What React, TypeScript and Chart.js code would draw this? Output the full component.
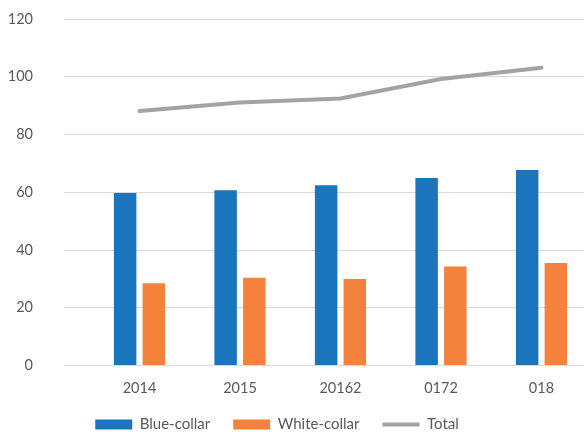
import React, { useEffect, useRef } from "react";
import { Chart, registerables } from "chart.js";

Chart.register(...registerables);

const categories = ["2014", "2015", "20162", "0172", "018"];
const blueCollar = [59.7, 60.7, 62.4, 64.9, 67.7];
const whiteCollar = [28.5, 30.4, 30.0, 34.3, 35.5];
const total = [88.1, 91.1, 92.5, 99.2, 103.1];
const yTicks = [0, 20, 40, 60, 80, 100, 120];

const legendShift = {
  id: "legendShift",
  afterLayout(chart: any) {
    const l = chart.legend;
    if (l) {
      l.left -= 15;
      l.right -= 15;
    }
  },
};

export default function App() {
  const ref = useRef<HTMLCanvasElement>(null);
  useEffect(() => {
    if (!ref.current) return;
    Chart.defaults.font.family = "Lato";
    Chart.defaults.font.size = 14;
    Chart.defaults.color = "#595959";
    const toPts = (arr: number[]) => arr.map((v, i) => ({ x: i, y: v }));
    const chart = new Chart(ref.current, {
      type: "bar",
      data: {
        datasets: [
          {
            label: "Blue-collar",
            data: toPts(blueCollar),
            backgroundColor: "#1b75bc",
            borderWidth: 0,
            categoryPercentage: 0.571,
            barPercentage: 0.784,
          } as any,
          {
            label: "White-collar",
            data: toPts(whiteCollar),
            backgroundColor: "#f4823c",
            borderWidth: 0,
            categoryPercentage: 0.571,
            barPercentage: 0.784,
          } as any,
          {
            type: "line",
            label: "Total",
            data: toPts(total),
            borderColor: "#a3a3a3",
            backgroundColor: "#a3a3a3",
            borderWidth: 4,
            pointRadius: 0,
            tension: 0,
            borderCapStyle: "round",
          } as any,
        ],
      },
      options: {
        animation: false,
        responsive: false,
        maintainAspectRatio: false,
        layout: { padding: { top: 19, left: 0, right: 0, bottom: 0 } },
        plugins: {
          tooltip: { enabled: false },
          legend: {
            position: "bottom",
            labels: {
              usePointStyle: true,
              pointStyleWidth: 37,
              boxWidth: 37,
              boxHeight: 10,
              padding: 23,
              color: "#595959",
              font: { family: "Lato", size: 15 },
              generateLabels: (chart: any) => {
                const items = Chart.defaults.plugins.legend.labels.generateLabels(chart);
                return items.map((it: any, i: number) => {
                  const ds: any = chart.data.datasets[i];
                  if (ds.type === "line") {
                    return { ...it, pointStyle: "line", lineWidth: 4, strokeStyle: ds.borderColor };
                  }
                  return { ...it, pointStyle: "rect", lineWidth: 0 };
                });
              },
            },
          },
        },
        scales: {
          x: {
            type: "linear",
            offset: false,
            bounds: "data",
            min: -0.751,
            max: 4.423,
            grid: { display: false, drawTicks: false, offset: false },
            border: { display: false },
            afterBuildTicks: (scale: any) => {
              scale.ticks = categories.map((_, i) => ({ value: i }));
            },
            afterFit: (scale: any) => {
              scale.height = 28.5;
            },
            ticks: {
              autoSkip: false,
              maxRotation: 0,
              padding: 14.6,
              color: "#595959",
              font: { family: "Lato", size: 14.5 },
              callback: (_v: any, i: number) => categories[i],
            },
          } as any,
          y: {
            min: 0,
            max: 120,
            afterBuildTicks: (scale: any) => {
              scale.ticks = yTicks.map((v) => ({ value: v }));
            },
            afterFit: (scale: any) => {
              scale.width = 64;
            },
            grid: {
              color: "#d9d9d9",
              lineWidth: 1,
              drawTicks: true,
              tickLength: 23,
              tickColor: "rgba(0,0,0,0)",
            },
            border: { display: false },
            ticks: {
              padding: 8,
              color: "#595959",
              font: { family: "Lato", size: 14.5 },
            },
          },
        },
      },
      plugins: [legendShift],
    });
    return () => chart.destroy();
  }, []);
  return (
    <div
      style={{
        position: "absolute",
        left: 0,
        top: 0,
        width: 584,
        height: 432,
        overflow: "hidden",
        background: "#fff",
      }}
    >
      <canvas ref={ref} width={584} height={442} style={{ display: "block" }} />
    </div>
  );
}
